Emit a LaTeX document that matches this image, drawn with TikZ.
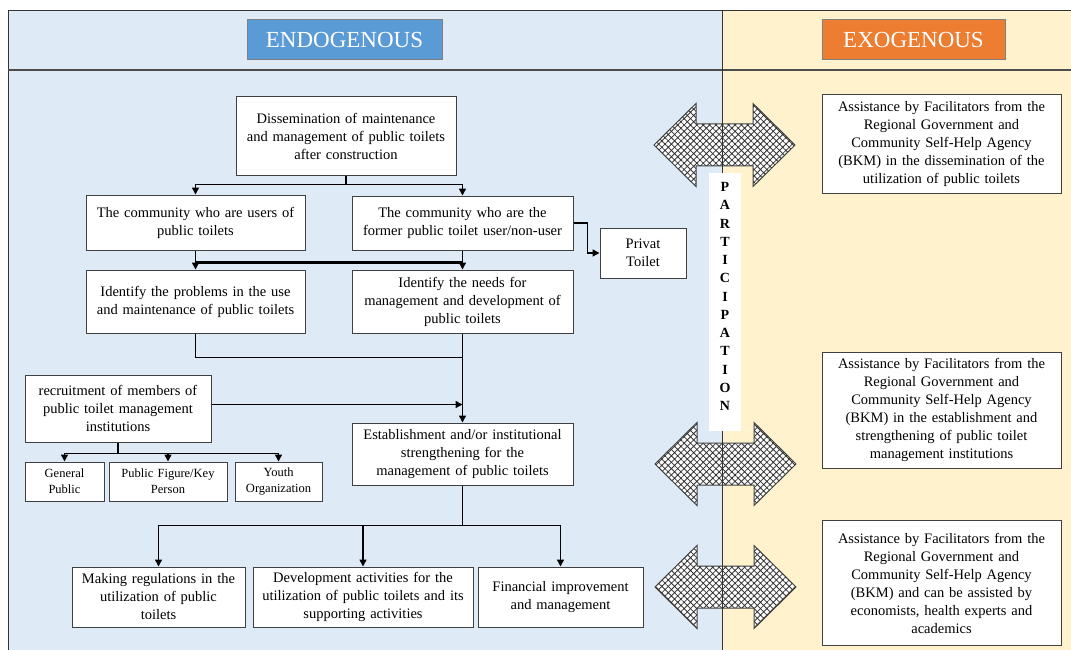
\documentclass[tikz,border=0pt]{standalone}
\usepackage{fontspec}
\setmainfont{Liberation Serif}
\usetikzlibrary{arrows.meta,patterns.meta}
\definecolor{leftbg}{HTML}{DEEAF6}
\definecolor{rightbg}{HTML}{FFF2CC}
\definecolor{endo}{HTML}{5B9BD5}
\definecolor{exo}{HTML}{ED7D31}
\tikzset{
  box/.style={draw=black!75, line width=1pt, fill=white, inner sep=1pt, align=center, font=\fontsize{14.5}{18}\selectfont},
  smallbox/.style={box, font=\fontsize{12.5}{16}\selectfont},
  conn/.style={line width=1.5pt, -{Triangle[length=7pt,width=7pt]}},
  plain/.style={line width=1.5pt},
  header/.style={draw=black!50, line width=1pt, text=white, minimum height=40pt, font=\fontsize{23}{26}\selectfont},
  letter/.style={font=\fontsize{14}{14}\selectfont\bfseries, inner sep=0pt}
}
\newcommand{\dblarrowpath}[2]{(#1-70.5,#2) -- (#1-28.5,#2-41.5) -- (#1-28.5,#2-21) -- (#1+28.5,#2-21) -- (#1+28.5,#2-41.5) -- (#1+70.5,#2) -- (#1+28.5,#2+41.5) -- (#1+28.5,#2+21) -- (#1-28.5,#2+21) -- (#1-28.5,#2+41.5) -- cycle}
\newcommand{\dblarrow}[2]{%
  \fill[white] \dblarrowpath{#1}{#2};
  \fill[pattern={Hatch[angle=45,distance=4.5pt,line width=0.8pt]}, pattern color=black!80] \dblarrowpath{#1}{#2};
  \draw[black!75, line width=1pt] \dblarrowpath{#1}{#2};
}
\begin{document}
\begin{tikzpicture}[x=1pt,y=-1pt]
\useasboundingbox (0,0) rectangle (1071,650);
% backgrounds
\fill[leftbg] (8,11) rectangle (722,650);
\fill[rightbg] (722,11) rectangle (1071,650);
\draw[black!80, line width=1pt] (8,650) -- (8,11) -- (1071,11);
\draw[black!70, line width=2pt] (8,70.5) -- (1071,70.5);

% headers
\node[header, fill=endo, minimum width=195pt] (endo) at (344.5,40) {ENDOGENOUS};
\node[header, fill=exo, minimum width=183pt] (exo) at (913.5,40) {EXOGENOUS};

% double arrows
\dblarrow{724.5}{145}
\dblarrow{725.5}{464}
\dblarrow{725.5}{587}
\draw[black!80, line width=1pt] (722,11) -- (722,650);

% participation strip
\fill[white] (709,173) rectangle (741,431);
\foreach \l [count=\i from 0] in {P,A,R,T,I,C,I,P,A,T,I,O,N}
  \node[letter] (p\i) at (725,{187+18.25*\i}) {\l};

% left boxes
\node[box, minimum width=220pt, minimum height=78pt, text width=214pt] (diss) at (346,136) {Dissemination of maintenance\\and management of public toilets\\after construction};
\node[box, minimum width=219pt, minimum height=55pt, text width=214pt] (users) at (195.5,222.5) {The community who are users of\\public toilets};
\node[box, minimum width=221pt, minimum height=54pt, text width=216pt] (former) at (462.5,223) {The community who are the\\former public toilet user/non-user};
\node[box, minimum width=86pt, minimum height=50pt, text width=80pt] (privat) at (643,253) {Privat\\Toilet};
\node[box, minimum width=219pt, minimum height=63pt, text width=214pt] (prob) at (195.5,301.5) {Identify the problems in the use\\and maintenance of public toilets};
\node[box, minimum width=221pt, minimum height=63pt, text width=216pt] (needs) at (462.5,301.5) {Identify the needs for\\management and development of\\public toilets};
\node[box, minimum width=186pt, minimum height=67pt, text width=180pt] (recruit) at (118,408.5) {recruitment of members of\\public toilet management\\institutions};
\node[box, minimum width=221pt, minimum height=62pt, text width=216pt] (estab) at (462.5,454) {Establishment and/or institutional\\strengthening for the\\management of public toilets};
\node[smallbox, minimum width=79pt, minimum height=39pt, text width=76pt] (general) at (64.5,481.5) {General\\Public};
\node[smallbox, minimum width=118pt, minimum height=39pt, text width=114pt] (figure) at (168,481.5) {Public Figure/Key\\Person};
\node[smallbox, minimum width=87pt, minimum height=39pt, text width=84pt] (youth) at (278.5,481.5) {Youth\\Organization};
\node[box, minimum width=173pt, minimum height=60pt, text width=170pt] (making) at (158.5,597) {Making regulations in the\\utilization of public\\toilets};
\node[box, minimum width=220pt, minimum height=60pt, text width=216pt] (devel) at (363,597) {Development activities for the\\utilization of public toilets and its\\supporting activities};
\node[box, minimum width=165pt, minimum height=60pt, text width=160pt] (fin) at (560.5,597) {Financial improvement\\and management};

% right boxes
\node[box, minimum width=239pt, minimum height=98pt, text width=234pt] (a1) at (941.5,144) {Assistance by Facilitators from the\\Regional Government and\\Community Self-Help Agency\\(BKM) in the dissemination of the\\utilization of public toilets};
\node[box, minimum width=239pt, minimum height=116pt, text width=234pt] (a2) at (941.5,410) {Assistance by Facilitators from the\\Regional Government and\\Community Self-Help Agency\\(BKM) in the establishment and\\strengthening of public toilet\\management institutions};
\node[box, minimum width=239pt, minimum height=125pt, text width=234pt] (a3) at (941.5,583) {Assistance by Facilitators from the\\Regional Government and\\Community Self-Help Agency\\(BKM) and can be assisted by\\economists, health experts and\\academics};

% connectors
\draw[plain] (diss.south) -- ++(0,9) coordinate (s1);
\draw[conn] (s1) -| (users.north);
\draw[conn] (s1) -| (former.north);

\draw[plain] (users.south) -- ++(0,12) coordinate (s2);
\draw[plain] (former.south) -- ++(0,12) coordinate (s2r);
\draw[line width=2.2pt] (s2) -- (s2r);
\draw[conn] (s2) -- (prob.north);
\draw[conn] (s2r) -- (needs.north);

\draw[conn] (former.east) -- ++(14,0) |- (privat.west);

\draw[plain] (prob.south) -- ++(0,24) coordinate (s3) -- (s3 -| needs.south);
\draw[conn] (needs.south) -- (estab.north);
\draw[conn] ([yshift=4pt]recruit.east) -- ([yshift=4pt]recruit.east -| estab.north);

\draw[plain] (recruit.south) -- ++(0,11) coordinate (s4);
\draw[conn] (s4) -| (general.north);
\draw[conn] (s4) -| (figure.north);
\draw[conn] (s4) -| (youth.north);

\draw[plain] (estab.south) -- ++(0,40) coordinate (s5);
\draw[conn] (s5) -| (making.north);
\draw[conn] (s5) -| (devel.north);
\draw[conn] (s5) -| (fin.north);
\end{tikzpicture}
\end{document}
